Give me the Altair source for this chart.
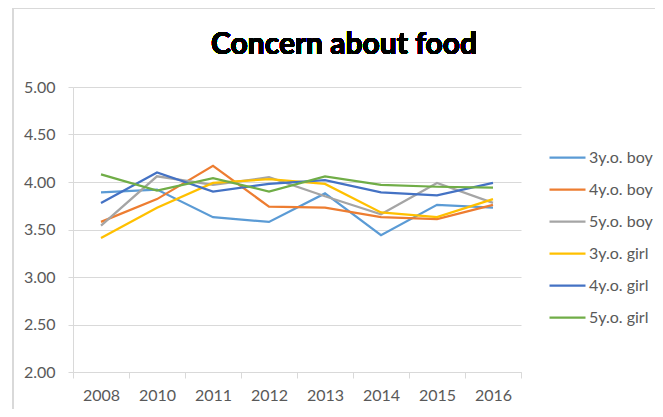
import altair as alt
import pandas as pd

years = ["2008", "2010", "2011", "2012", "2013", "2014", "2015", "2016"]
series_names = ["3y.o. boy", "4y.o. boy", "5y.o. boy", "3y.o. girl", "4y.o. girl", "5y.o. girl"]
boy3 = [3.89, 3.92, 3.63, 3.58, 3.88, 3.44, 3.76, 3.73]
boy4 = [3.58, 3.82, 4.17, 3.74, 3.73, 3.63, 3.61, 3.76]
boy5 = [3.54, 4.06, 3.97, 4.05, 3.85, 3.66, 3.99, 3.78]
girl3 = [3.41, 3.73, 3.99, 4.03, 3.98, 3.68, 3.63, 3.82]
girl4 = [3.78, 4.10, 3.90, 3.98, 4.02, 3.89, 3.86, 3.99]
girl5 = [4.08, 3.91, 4.04, 3.90, 4.06, 3.97, 3.95, 3.94]
y_ticks = [2.0, 2.5, 3.0, 3.5, 4.0, 4.5, 5.0]
colors = ["#5B9BD5", "#ED7D31", "#A5A5A5", "#FFC000", "#4472C4", "#70AD47"]
title_text = "Concern about food"

rows = []
for name, vals in zip(series_names, [boy3, boy4, boy5, girl3, girl4, girl5]):
    for yr, v in zip(years, vals):
        rows.append({"year": yr, "series": name, "value": v})
df = pd.DataFrame(rows)

FONT = "Lato"

lines = alt.Chart(df).mark_line(strokeWidth=2.25).encode(
    x=alt.X("year:O", sort=years, bandPosition=0.5,
            scale=alt.Scale(type="band", paddingInner=0, paddingOuter=0),
            axis=alt.Axis(title=None, labelAngle=0, tickBand="extent", domain=True,
                          domainColor="#d9d9d9", tickColor="#d9d9d9", tickSize=6,
                          labelFont=FONT, labelFontSize=16, labelColor="#595959",
                          labelPadding=9, grid=False)),
    y=alt.Y("value:Q", scale=alt.Scale(domain=[2, 5], nice=False, zero=False),
            axis=alt.Axis(title=None, values=y_ticks, format=".2f",
                          domain=True, domainColor="#d9d9d9", tickColor="#d9d9d9",
                          tickSize=5, grid=True, gridColor="#d9d9d9",
                          labelFont=FONT, labelFontSize=16, labelColor="#595959",
                          labelPadding=13)),
    color=alt.Color("series:N", sort=series_names,
                    scale=alt.Scale(domain=series_names, range=colors),
                    legend=alt.Legend(title=None, orient="none", legendX=475, legendY=51,
                                      symbolType="stroke", symbolSize=1296,
                                      symbolStrokeWidth=2.25, rowPadding=4,
                                      labelFont=FONT, labelFontSize=16,
                                      labelColor="#595959", labelOffset=2)),
)

title = alt.Chart(df).mark_text(font=FONT, fontSize=30, fontWeight="bold", color="#000000",
                                align="center", baseline="alphabetic").encode(
    x=alt.value(271), y=alt.value(-33), text=alt.value(title_text))

frame_top = alt.Chart(df).mark_rule(color="#d9d9d9", strokeWidth=1.5).encode(
    x=alt.value(-60), x2=alt.value(600), y=alt.value(-79))
frame_left = alt.Chart(df).mark_rule(color="#d9d9d9", strokeWidth=1.5).encode(
    x=alt.value(-60), y=alt.value(-79), y2=alt.value(330))

chart = alt.layer(frame_top, frame_left, title, lines).properties(
    width=448, height=285,
    autosize=alt.AutoSizeParams(type="none"),
    padding={"left": 65, "top": 79, "right": 134, "bottom": 37},
).configure_view(stroke=None)

chart.save("out.html", embed_options={"renderer": "svg", "actions": False})
